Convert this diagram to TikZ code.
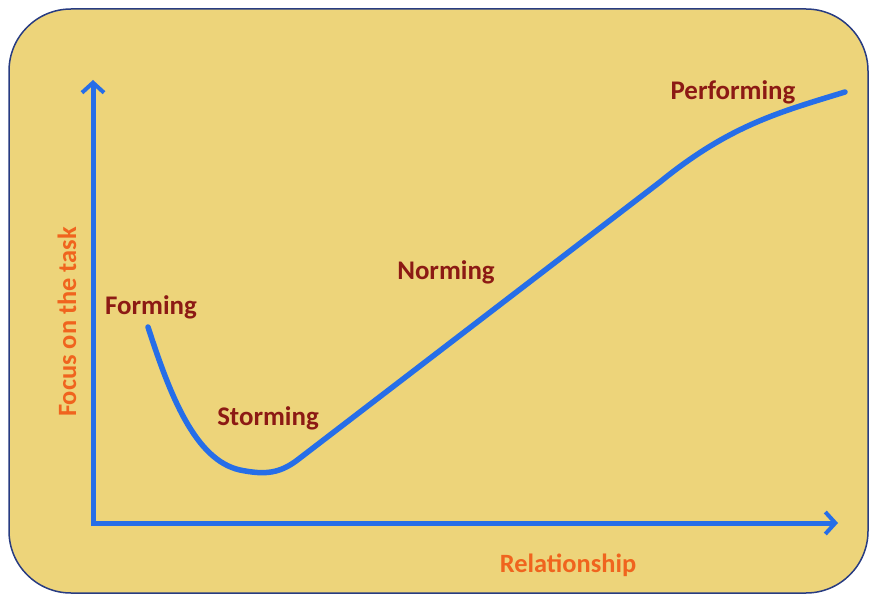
\documentclass[tikz,border=0pt]{standalone}
\usepackage{fontspec}
\setmainfont{Carlito}
\usetikzlibrary{arrows.meta}
\definecolor{bg}{RGB}{237,212,122}
\definecolor{frame}{RGB}{40,60,130}
\definecolor{axisblue}{RGB}{38,110,232}
\definecolor{stage}{RGB}{140,26,20}
\definecolor{axlabel}{RGB}{240,100,30}
\tikzset{
  axisline/.style={line width=5bp, draw=axisblue, -{Straight Barb[length=10bp,width=22bp,line width=4bp]}},
  stagelabel/.style={font=\bfseries\fontsize{27}{30}\selectfont, text=stage, inner sep=0pt},
  axislabel/.style={font=\bfseries\fontsize{26.5}{29}\selectfont, text=axlabel, inner sep=0pt},
}
\begin{document}
\begin{tikzpicture}[x=1bp,y=-1bp]
\useasboundingbox (0,0) rectangle (874,599);
\fill[white] (0,0) rectangle (874,599);
\draw[frame, line width=1.5bp, fill=bg, rounded corners=62bp] (9,9) rectangle (868,593);
\coordinate (o) at (93,523);
\coordinate (ytop) at (93,80);
\coordinate (xend) at (838,523);
\draw[axisline] (93,526) -- (ytop);
\draw[axisline] (91,523) -- (xend);
\draw[line width=5.5bp, axisblue, line cap=round]
  (148,327) .. controls (170,395) and (195,460) .. (240,470)
  .. controls (265,475) and (280,474) .. (300,458)
  -- (660,182)
  .. controls (730,125) and (780,112) .. (845,92);
\node[stagelabel] (forming) at (151,307) {Forming};
\node[stagelabel] (storming) at (268,418) {Storming};
\node[stagelabel] (norming) at (446,272) {Norming};
\node[stagelabel] (performing) at (733,92) {Performing};
\node[axislabel] (rel) at (568,565) {Relationship};
\node[axislabel, rotate=90] (focus) at (67,322) {Focus on the task};
\end{tikzpicture}
\end{document}
